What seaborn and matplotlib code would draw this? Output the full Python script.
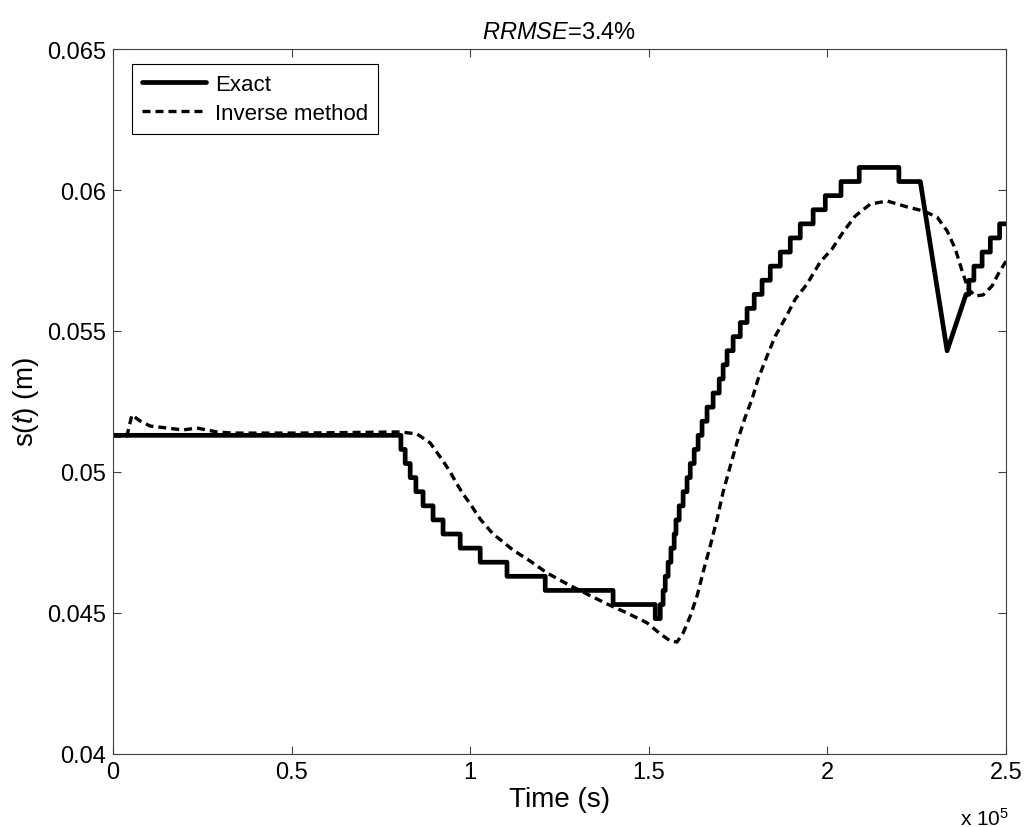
import numpy as np
import pandas as pd
import matplotlib
matplotlib.use('Agg')
import matplotlib.pyplot as plt
import seaborn as sns
from matplotlib.ticker import FuncFormatter, MultipleLocator

# Exact: staircase part 1 (level starts at each time), t in s, s in m
exact_t1 = [0, 80600, 81800, 83200, 84800, 86800, 89600, 92400, 97200, 102800,
            110300, 121000, 140000, 151800,
            153200, 154000, 154600, 155400, 156200, 157100, 157600, 158500, 159600,
            160700, 161600, 162700, 163800, 164900, 166300, 168000, 169700, 170800,
            171900, 173600, 175600, 177500, 179500, 181700, 184000, 186800, 189600,
            192400, 196000, 199400, 203800, 208900, 220000]
exact_s1 = [0.0513, 0.0508, 0.0503, 0.0498, 0.0493, 0.0488, 0.0483, 0.0478, 0.0473, 0.0468,
            0.0463, 0.0458, 0.0453, 0.0448,
            0.0453, 0.0458, 0.0463, 0.0468, 0.0473, 0.0478, 0.0483, 0.0488, 0.0493,
            0.0498, 0.0503, 0.0508, 0.0513, 0.0518, 0.0523, 0.0528, 0.0533, 0.0538,
            0.0543, 0.0548, 0.0553, 0.0558, 0.0563, 0.0568, 0.0573, 0.0578, 0.0583,
            0.0588, 0.0593, 0.0598, 0.0603, 0.0608, 0.0603]
exact_end1 = 226000
# Exact: the sharp dip
dip_t = [233500]
dip_s = [0.0543]
# Exact: staircase part 2
exact_t2 = [238800, 239600, 241000, 243300, 245600, 248200]
exact_s2 = [0.0563, 0.0568, 0.0573, 0.0578, 0.0583, 0.0588]
exact_end2 = 250000

# Inverse method
inv_t = [0, 3900, 5300, 7600, 10400, 15100, 19600, 23500, 26300, 29100, 33600, 52400,
         80400, 85100, 88800, 92400, 94400, 96300, 98000, 100000, 102800, 106400,
         109200, 112000, 116800, 121500, 127100, 132700, 138300, 143900, 149500,
         153200, 156000, 157900, 159600, 161600, 163500, 165200, 167200, 169100,
         170800, 172800, 174700, 177000, 178900, 180600, 183100, 185400, 188400,
         191000, 194300, 198000, 201300, 204400, 207800, 212000, 216700, 222300,
         226800, 230700, 233500, 235800, 237700, 239400, 241400, 243600, 246100,
         247800, 250000]
inv_s = [0.05128, 0.05128, 0.05202, 0.05181, 0.05163, 0.05156, 0.05149, 0.05156, 0.05149,
         0.05142, 0.05138, 0.05138, 0.05142, 0.05135, 0.05103, 0.05039, 0.05000,
         0.04957, 0.04922, 0.04887, 0.04833, 0.04780, 0.04752, 0.04723, 0.04684,
         0.04642, 0.04603, 0.04567, 0.04532, 0.04500, 0.04465, 0.04426, 0.04401,
         0.04397, 0.04429, 0.04489, 0.04560, 0.04645, 0.04738, 0.04833, 0.04929,
         0.05021, 0.05106, 0.05195, 0.05259, 0.05330, 0.05411, 0.05482, 0.05550,
         0.05613, 0.05667, 0.05745, 0.05791, 0.05851, 0.05908, 0.05950, 0.05961,
         0.05940, 0.05926, 0.05904, 0.05855, 0.05791, 0.05713, 0.05649, 0.05624,
         0.05628, 0.05660, 0.05702, 0.05748]


def stairs(t, s, t_end):
    # 계단 함수 꼭짓점 만들기
    xs, ys = [], []
    for i in range(len(t)):
        nxt = t[i + 1] if i + 1 < len(t) else t_end
        xs += [t[i], nxt]
        ys += [s[i], s[i]]
    return xs, ys


x1, y1 = stairs(exact_t1, exact_s1, exact_end1)
x2, y2 = stairs(exact_t2, exact_s2, exact_end2)
exact = pd.DataFrame({'t': x1 + dip_t + x2, 's': y1 + dip_s + y2})
inverse = pd.DataFrame({'t': inv_t, 's': inv_s})

sns.set_style('white')
plt.rcParams['font.family'] = ['Liberation Sans', 'DejaVu Sans']
plt.rcParams['mathtext.fontset'] = 'custom'
plt.rcParams['mathtext.rm'] = 'Liberation Sans'
plt.rcParams['mathtext.it'] = 'Liberation Sans:italic'
plt.rcParams['text.color'] = 'black'
plt.rcParams['axes.labelcolor'] = 'black'

fig = plt.figure(figsize=(10.27, 8.28), dpi=100)
ax = fig.add_axes([0.110, 0.0882, 0.8696, 0.8514])

sns.lineplot(data=exact, x='t', y='s', sort=False, estimator=None,
             color='black', linewidth=3.4, label='Exact', ax=ax)
sns.lineplot(data=inverse, x='t', y='s', sort=False, estimator=None,
             color='black', linewidth=2.4, label='Inverse method', ax=ax)
ax.lines[1].set_dashes([2.4, 1.5])

ax.set_xlim(0, 250000)
ax.set_ylim(0.04, 0.065)
ax.xaxis.set_major_locator(MultipleLocator(50000))
ax.yaxis.set_major_locator(MultipleLocator(0.005))
ax.xaxis.set_major_formatter(FuncFormatter(lambda v, p: f'{v / 1e5:g}'))
ax.yaxis.set_major_formatter(FuncFormatter(lambda v, p: f'{round(v, 4):g}'))

ax.tick_params(which='both', direction='in', top=True, right=True,
               bottom=True, left=True, length=6, width=0.8,
               color='#404040', labelsize=17, labelcolor='black', pad=5)
for sp in ax.spines.values():
    sp.set_color('#404040')
    sp.set_linewidth(0.8)

ax.set_xlabel('Time (s)', fontsize=20, labelpad=2, color='black')
ax.set_ylabel(r's($\mathit{t}$) (m)', fontsize=20, labelpad=4, color='black')
ax.set_title(r'$\mathit{RRMSE}$=3.4%', fontsize=17, pad=8, color='black')
ax.text(0.976, -0.09, r'x 10$^{5}$', transform=ax.transAxes,
        fontsize=15, ha='center', va='center', color='black')

leg = ax.legend(loc='upper left', bbox_to_anchor=(19 / 893, 1 - 15 / 705),
                borderaxespad=0, frameon=True, fancybox=False, fontsize=16,
                edgecolor='black', framealpha=1, handlelength=2.9,
                handletextpad=0.4, labelspacing=0.35, borderpad=0.45)
leg.get_frame().set_linewidth(0.8)
for txt in leg.get_texts():
    txt.set_color('black')

fig.savefig('out.png', dpi=100)
